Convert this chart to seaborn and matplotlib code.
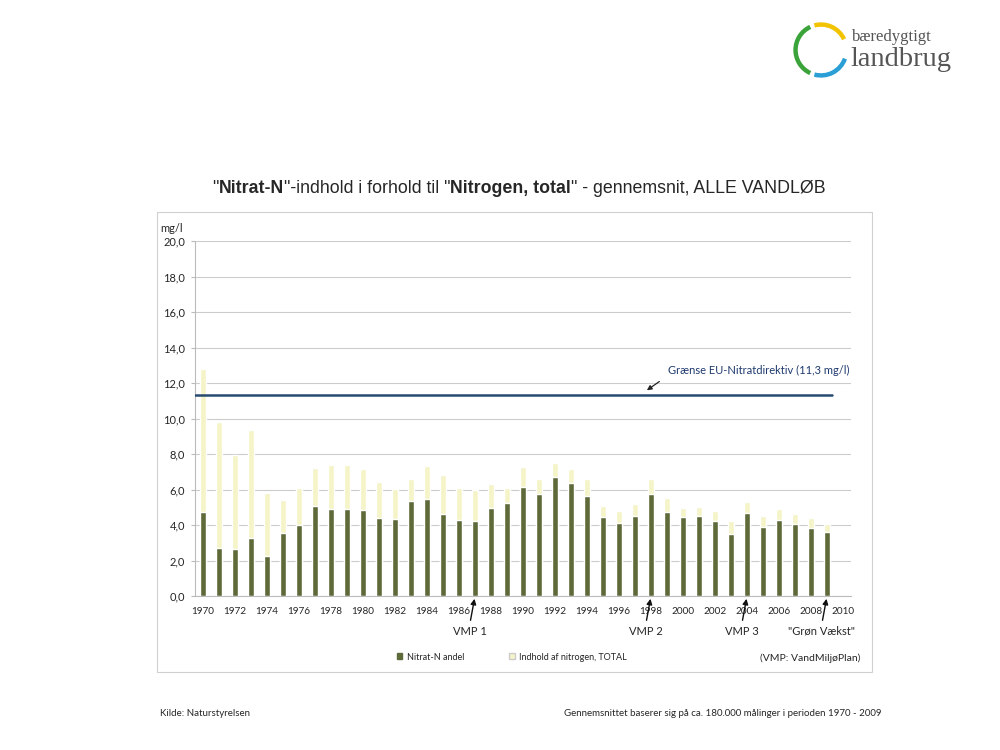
import seaborn as sns
import matplotlib.pyplot as plt
import pandas as pd
import numpy as np
from matplotlib.patches import Arc, Rectangle, Patch

# data (mg/l)
years = list(range(1970, 2010))
nitrat_n = [4.74, 2.68, 2.65, 3.28, 2.27, 3.53, 3.98, 5.06, 4.90, 4.90,
            4.84, 4.40, 4.32, 5.35, 5.45, 4.64, 4.28, 4.23, 4.94, 5.22,
            6.16, 5.76, 6.70, 6.38, 5.63, 4.45, 4.13, 4.51, 5.77, 4.75,
            4.45, 4.51, 4.23, 3.51, 4.66, 3.89, 4.26, 4.07, 3.85, 3.61]
total_n = [12.79, 9.81, 7.97, 9.34, 5.81, 5.40, 6.06, 7.22, 7.37, 7.37,
           7.13, 6.42, 6.05, 6.57, 7.32, 6.82, 6.07, 5.97, 6.33, 6.07,
           7.27, 6.61, 7.51, 7.14, 6.57, 5.07, 4.77, 5.16, 6.61, 5.54,
           4.98, 5.03, 4.79, 4.23, 5.30, 4.51, 4.92, 4.64, 4.38, 4.04]
eu_limit = 11.3
year_order = [str(y) for y in range(1970, 2011)]
vmp_marks = [("1987", "VMP 1"), ("1998", "VMP 2"), ("2004", "VMP 3"), ("2009", '"Grøn Vækst"')]

df = pd.DataFrame({"year": [str(y) for y in years], "nitrat": nitrat_n, "total": total_n})

green = "#5f6a3a"
pale = "#f4f4c8"
navy = "#264a70"

sns.set_style("white")
plt.rcParams["font.family"] = ["Lato", "DejaVu Sans"]

fig = plt.figure(figsize=(10, 7.5), dpi=100)
ax = fig.add_axes([0.195, 0.2053, 0.656, 0.4733])

# chart frame
fig.patches.append(Rectangle((0.157, 0.104), 0.715, 0.613, transform=fig.transFigure,
                             fill=False, edgecolor="#d0d0d0", linewidth=0.8))

sns.barplot(data=df, x="year", y="total", order=year_order, color=pale,
            width=0.33, saturation=1, ax=ax, zorder=2)
sns.barplot(data=df, x="year", y="nitrat", order=year_order, color=green,
            width=0.33, saturation=1, ax=ax, zorder=3)

ax.plot([-0.5, 39.3], [eu_limit, eu_limit], color=navy, lw=1.8, zorder=4)

ax.set_xlim(-0.5, 40.5)
ax.set_ylim(0, 20)
yt = np.arange(0, 20.1, 2)
ax.set_yticks(yt)
ax.set_yticklabels([f"{v:.1f}".replace(".", ",") for v in yt], fontsize=8)
ax.set_xticks(range(0, 41, 2))
ax.set_xticklabels(year_order[::2], fontsize=7.2)
ax.tick_params(axis="x", length=0, pad=8)
ax.tick_params(axis="y", length=3, color="#bbbbbb", pad=4, left=True)
ax.set_xlabel("")
ax.set_ylabel("")
ax.grid(axis="y", color="#cccccc", linewidth=0.8, zorder=0)
ax.set_axisbelow(True)
for s in ["top", "right"]:
    ax.spines[s].set_visible(False)
for s in ["left", "bottom"]:
    ax.spines[s].set_color("#bbbbbb")
    ax.spines[s].set_linewidth(0.8)

fig.text(0.160, 0.696, "mg/l", fontsize=8, ha="left", va="center")

# EU limit annotation
ax.annotate("", xy=(27.6, 11.5), xytext=(17, 12), textcoords="offset pixels",
            arrowprops=dict(arrowstyle="-|>", color="#222222", lw=0.9, mutation_scale=7))
ax.text(29.05, 12.68, "Grænse EU-Nitratdirektiv (11,3 mg/l)", color="#1f3a6e",
        fontsize=8, ha="left", va="center")

# VMP arrows and labels
for yr, label in vmp_marks:
    idx = year_order.index(yr)
    ax.annotate("", xy=(idx, 0), xytext=(-5, -27), textcoords="offset pixels",
                arrowprops=dict(arrowstyle="-|>", color="#111111", lw=1.0, mutation_scale=8),
                annotation_clip=False)
    ax.annotate(label, xy=(idx, 0), xytext=(-5, -35), textcoords="offset pixels",
                ha="center", va="center", fontsize=8, annotation_clip=False)

# legend
handles = [Patch(facecolor=green, edgecolor=green), Patch(facecolor=pale, edgecolor="#cccccc")]
fig.legend(handles, ["Nitrat-N andel", "Indhold af nitrogen, TOTAL"], loc="center",
           bbox_to_anchor=(0.512, 0.124), ncol=2, frameon=False, fontsize=6.5,
           handlelength=0.6, handleheight=0.6, handletextpad=0.5, columnspacing=5)
fig.text(0.860, 0.123, "(VMP: VandMiljøPlan)", fontsize=7.5, ha="right", va="center")

# title with bold parts, chained left to right
parts = [('"', "normal"), ("Nitrat-N", "bold"), ('"-indhold i forhold til "', "normal"),
         ("Nitrogen, total", "bold"), ('" - gennemsnit, ALLE VANDLØB', "normal")]
prev = fig.text(0.212, 0.749, parts[0][0], fontsize=12.8, family="Liberation Sans",
                fontweight=parts[0][1], ha="left", va="center")
for txt, w in parts[1:]:
    prev = fig.add_artist(plt.Annotation(txt, xy=(1, 0), xycoords=prev, fontsize=12.8,
                                         family="Liberation Sans", fontweight=w,
                                         ha="left", va="bottom"))

# footer
fig.text(0.160, 0.048, "Kilde: Naturstyrelsen", fontsize=7, ha="left", va="center")
fig.text(0.882, 0.048, "Gennemsnittet baserer sig på ca. 180.000 målinger i perioden 1970 - 2009",
         fontsize=7, ha="right", va="center")

# logo
lax = fig.add_axes([0.793, 0.896, 0.056, 0.0747])
lax.set_xlim(-1.1, 1.1)
lax.set_ylim(-1.1, 1.1)
lax.set_aspect("equal")
lax.axis("off")
lax.add_patch(Arc((0, 0), 2, 2, theta1=25, theta2=105, color="#f2c400", lw=3.2))
lax.add_patch(Arc((0, 0), 2, 2, theta1=115, theta2=245, color="#3aa33a", lw=3.2))
lax.add_patch(Arc((0, 0), 2, 2, theta1=255, theta2=340, color="#2a9fd6", lw=3.2))
fig.text(0.852, 0.951, "bæredygtigt", family="Liberation Serif", fontsize=12,
         color="#555555", ha="left", va="center")
fig.text(0.850, 0.921, "landbrug", family="Liberation Serif", fontsize=20.5,
         color="#555555", ha="left", va="center")

fig.savefig("out.png", dpi=100)
